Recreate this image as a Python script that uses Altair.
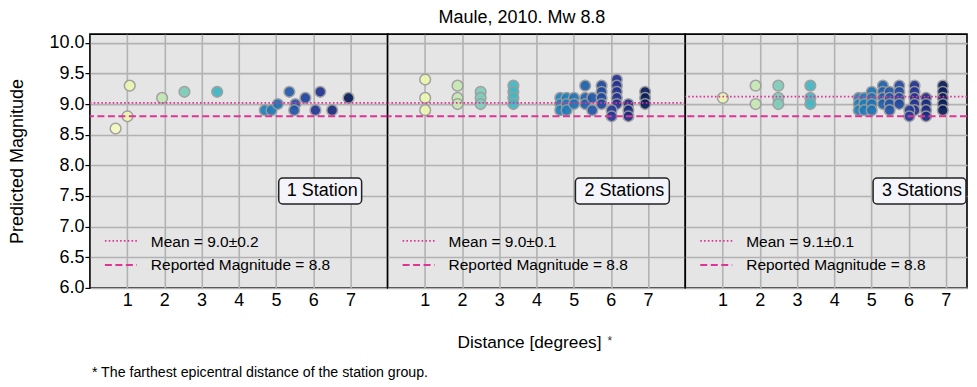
import altair as alt
import pandas as pd

# ---------------- data ----------------
panel_labels = ["1 Station", "2 Stations", "3 Stations"]

p1_dist = [0.69, 1.01, 1.07, 1.94, 2.54, 3.42, 4.70, 4.88, 5.05, 5.36, 5.52, 5.49, 5.79, 6.19, 6.06, 6.51, 6.95]
p1_mag = [8.6, 8.8, 9.3, 9.1, 9.2, 9.2, 8.9, 8.9, 9.0, 9.2, 9.0, 8.9, 9.1, 9.2, 8.9, 8.9, 9.1]

p2_dist = [1.01, 1.01, 1.01,
           1.88, 1.88, 1.88,
           2.50, 2.50, 2.50,
           3.38, 3.38, 3.38, 3.38,
           4.64, 4.64, 4.64,
           4.81, 4.81, 4.81,
           5.01, 5.01,
           5.31, 5.31, 5.31,
           5.50, 5.50,
           5.75, 5.75, 5.75, 5.75,
           6.16, 6.16, 6.16, 6.16, 6.16,
           6.02, 6.02,
           6.47, 6.47, 6.47,
           6.92, 6.92, 6.92]
p2_mag = [9.4, 9.1, 8.9,
          9.3, 9.1, 9.0,
          9.2, 9.1, 9.0,
          9.3, 9.2, 9.1, 9.0,
          9.1, 9.0, 8.9,
          9.1, 9.0, 8.9,
          9.1, 9.0,
          9.3, 9.1, 9.0,
          9.1, 8.9,
          9.3, 9.2, 9.1, 9.0,
          9.4, 9.3, 9.2, 9.1, 9.0,
          8.9, 8.8,
          9.0, 8.9, 8.8,
          9.2, 9.1, 9.0]

p3_dist = [1.01,
           1.89, 1.89,
           2.50, 2.50, 2.50,
           3.36, 3.36, 3.36,
           4.66, 4.66, 4.66,
           4.81, 4.81, 4.81,
           5.01, 5.01, 5.01, 5.01,
           5.31, 5.31, 5.31, 5.31,
           5.49, 5.49, 5.49, 5.49,
           5.75, 5.75, 5.75, 5.75,
           6.16, 6.16, 6.16, 6.16, 6.16,
           6.02, 6.02,
           6.47, 6.47, 6.47, 6.47,
           6.92, 6.92, 6.92, 6.92, 6.92]
p3_mag = [9.1,
          9.3, 9.0,
          9.3, 9.1, 9.0,
          9.3, 9.1, 9.0,
          9.1, 9.0, 8.9,
          9.1, 9.0, 8.9,
          9.2, 9.1, 9.0, 8.9,
          9.3, 9.2, 9.1, 9.0,
          9.2, 9.1, 9.0, 8.9,
          9.3, 9.2, 9.1, 9.0,
          9.3, 9.2, 9.1, 9.0, 8.9,
          8.9, 8.8,
          9.1, 9.0, 8.9, 8.8,
          9.3, 9.2, 9.1, 9.0, 8.9]

panel_dist = [p1_dist, p2_dist, p3_dist]
panel_mag = [p1_mag, p2_mag, p3_mag]

mean_values = [9.02, 9.02, 9.12]
mean_labels = ["Mean = 9.0\u00b10.2", "Mean = 9.0\u00b10.1", "Mean = 9.1\u00b10.1"]
reported_mag = 8.8
reported_label = "Reported Magnitude = 8.8"

x_ticks = [1, 2, 3, 4, 5, 6, 7]
y_ticks = [6.0, 6.5, 7.0, 7.5, 8.0, 8.5, 9.0, 9.5, 10.0]

title_text = "Maule, 2010. Mw 8.8"
x_title = "Distance [degrees]"
footnote = "* The farthest epicentral distance of the station group."

# ---------------- style ----------------
FONT = "Liberation Sans"
MAGENTA = "#dd3497"
PANEL_H = 254
panel_w = [298, 298, 282]
x_max = [8.0, 8.0, 7.57]
box_px0 = [189, 188, 188]
box_px1 = [272, 282, 281]
color_stops = [0.69, 1.0, 1.9, 2.5, 3.4, 4.6, 5.0, 5.4, 6.1, 6.5, 6.95]
color_range = ["#f6fbc0", "#edf8b1", "#c7e9b4", "#7fcdbb", "#41b6c4", "#1f84bd",
               "#1f74b3", "#235aa8", "#253494", "#1a2b7e", "#081d58"]

one = pd.DataFrame({"k": [0]})


def make_panel(i):
    df = pd.DataFrame({"dist": panel_dist[i], "mag": panel_mag[i]})
    xs = alt.Scale(domain=[0, x_max[i]], nice=False, zero=False)
    ys = alt.Scale(domain=[6.0, 10.14], nice=False, zero=False)
    xaxis = alt.Axis(values=x_ticks, format="d", ticks=False, domain=False, grid=True,
                     labelPadding=4, labelFontSize=18, title=None, labelOverlap=False)
    if i == 0:
        yaxis = alt.Axis(values=y_ticks, format=".1f", domain=False, grid=True, ticks=True,
                         tickSize=5, tickWidth=1.2, tickColor="#000", labelPadding=1,
                         labelFontSize=18, labelOverlap=False,
                         title="Predicted Magnitude", titleFontSize=18,
                         titleFontWeight="normal", titleX=-72, titleY=PANEL_H / 2,
                         titleBaseline="middle", titleAlign="center", titleAngle=270)
    else:
        yaxis = alt.Axis(values=y_ticks, domain=False, grid=True, ticks=False,
                         labels=False, title=None)

    pts = alt.Chart(df).mark_circle(size=115, stroke="#9c9c9c", strokeWidth=1.5,
                                    opacity=0.93).encode(
        x=alt.X("dist:Q", scale=xs, axis=xaxis),
        y=alt.Y("mag:Q", scale=ys, axis=yaxis),
        color=alt.Color("dist:Q", scale=alt.Scale(domain=color_stops, range=color_range),
                        legend=None),
    )
    mean_rule = alt.Chart(pd.DataFrame({"mag": [mean_values[i]]})).mark_rule(
        color=MAGENTA, strokeDash=[1.6, 2.2], strokeWidth=1.7).encode(
        y=alt.Y("mag:Q", scale=ys, axis=yaxis))
    rep_rule = alt.Chart(pd.DataFrame({"mag": [reported_mag]})).mark_rule(
        color=MAGENTA, strokeDash=[7, 3.5], strokeWidth=2).encode(
        y=alt.Y("mag:Q", scale=ys, axis=yaxis))

    leg_dot = alt.Chart(one).mark_rule(color=MAGENTA, strokeDash=[1.6, 2.2],
                                       strokeWidth=1.7).encode(
        x=alt.value(15), x2=alt.value(47), y=alt.value(207))
    leg_dash = alt.Chart(one).mark_rule(color=MAGENTA, strokeDash=[7, 3.5],
                                        strokeWidth=2).encode(
        x=alt.value(15), x2=alt.value(47), y=alt.value(231))
    leg_t1 = alt.Chart(one).mark_text(align="left", baseline="alphabetic", fontSize=15.5,
                                      font=FONT, color="#000").encode(
        x=alt.value(61), y=alt.value(212.7), text=alt.value(mean_labels[i]))
    leg_t2 = alt.Chart(one).mark_text(align="left", baseline="alphabetic", fontSize=15.5,
                                      font=FONT, color="#000").encode(
        x=alt.value(61), y=alt.value(236.3), text=alt.value(reported_label))

    box = alt.Chart(one).mark_rect(fill="#f4f4fb", stroke="#222", strokeWidth=1.5,
                                   cornerRadius=4).encode(
        x=alt.value(box_px0[i]), x2=alt.value(box_px1[i]),
        y=alt.value(144), y2=alt.value(170))
    box_t = alt.Chart(one).mark_text(align="left", baseline="middle", fontSize=18,
                                     font=FONT, color="#000").encode(
        x=alt.value(197), y=alt.value(157.5), text=alt.value(panel_labels[i]))

    layers = [pts, mean_rule, rep_rule, leg_dot, leg_dash, leg_t1, leg_t2, box, box_t]

    if i == 1:
        layers.append(alt.Chart(one).mark_text(align="center", baseline="alphabetic",
                                               fontSize=18, font=FONT, color="#000").encode(
            x=alt.value(134.5), y=alt.value(-10.8), text=alt.value(title_text)))
        layers.append(alt.Chart(one).mark_text(align="center", baseline="alphabetic",
                                               fontSize=17.3, font=FONT, color="#000").encode(
            x=alt.value(142), y=alt.value(314), text=alt.value(x_title)))
        layers.append(alt.Chart(one).mark_text(align="left", baseline="alphabetic",
                                               fontSize=12, font=FONT, color="#333").encode(
            x=alt.value(220), y=alt.value(311), text=alt.value("*")))
    if i == 0:
        layers.append(alt.Chart(one).mark_text(align="left", baseline="alphabetic",
                                               fontSize=14.2, font=FONT, color="#000").encode(
            x=alt.value(2), y=alt.value(343.5), text=alt.value(footnote)))

    return alt.layer(*layers).properties(width=panel_w[i], height=PANEL_H)


chart = alt.hconcat(make_panel(0), make_panel(1), make_panel(2), spacing=0,
                    bounds="flush").properties(
    padding={"left": 0, "top": 0, "right": 0, "bottom": 0}
).configure_view(
    fill="#e5e5e5", stroke="#000", strokeWidth=1.6
).configure_axis(
    gridColor="#b2b2b2", gridWidth=1.6, labelFont=FONT, titleFont=FONT,
    labelColor="#000", titleColor="#000"
).configure_text(font=FONT)

chart.save("out.html", embed_options={"renderer": "svg", "actions": False})
